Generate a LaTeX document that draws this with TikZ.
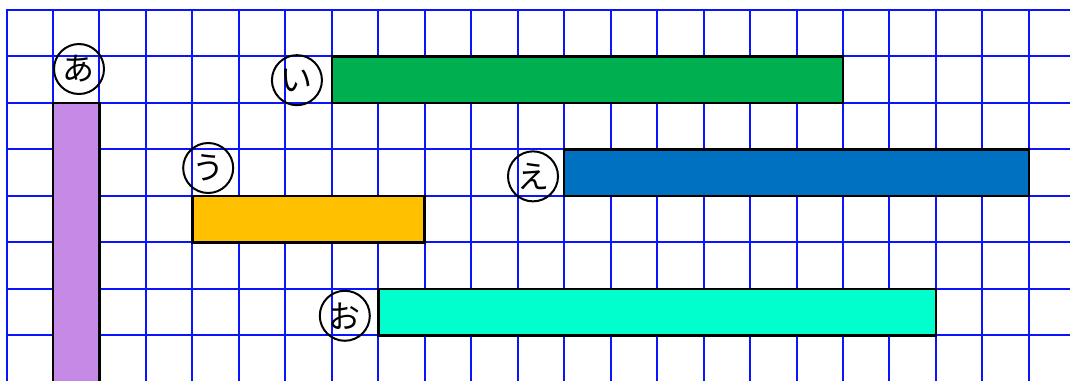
\documentclass[tikz,border=0pt]{standalone}
\usepackage{fontspec}
\newfontfamily\jp{Noto Sans CJK JP}
\definecolor{gridblue}{HTML}{0A14FF}
\definecolor{cpurple}{HTML}{C58AE6}
\definecolor{cgreen}{HTML}{00B050}
\definecolor{corange}{HTML}{FFC000}
\definecolor{cblue}{HTML}{0070C0}
\definecolor{caqua}{HTML}{00FFCC}
\tikzset{
  gridline/.style={draw=gridblue, line width=2pt},
  bar/.style={draw=black, line width=2.5pt, anchor=north west, inner sep=0pt, outer sep=0pt, minimum height=46.47pt},
  lab/.style={circle, draw=black, line width=2pt, minimum size=50pt, inner sep=0pt, font=\jp\fontsize{32}{32}\selectfont}
}
\begin{document}
\begin{tikzpicture}[x=1pt,y=-1pt]
\useasboundingbox (0,0) rectangle (1070,380);
\fill[white] (0,0) rectangle (1070,380);
\clip (0,0) rectangle (1070,380);
\begin{scope}[shift={(6.5,10)}, x=46.47pt, y=-46.47pt]
  \foreach \i in {0,...,22} \draw[gridline] (\i,0) -- (\i,8.5);
  \foreach \j in {0,...,8} \draw[gridline] (-0.02,\j) -- (23.5,\j);
  % bars
  \node[bar, fill=cpurple, minimum width=46.47pt, minimum height=300pt] (ba) at (1,2) {};
  \node[bar, fill=cgreen, minimum width=511.17pt] (bi) at (7,1) {};
  \node[bar, fill=corange, minimum width=232.35pt] (bu) at (4,4) {};
  \node[bar, fill=cblue, minimum width=464.7pt] (be) at (12,3) {};
  \node[bar, fill=caqua, minimum width=557.64pt] (bo) at (8,6) {};
  % labels
  \node[lab] (la) at (1.56,1.27) {あ};
  \node[lab] (li) at (6.25,1.51) {い};
  \node[lab] (lu) at (4.34,3.40) {う};
  \node[lab] (le) at (11.33,3.58) {え};
  \node[lab] (lo) at (7.28,6.58) {お};
\end{scope}
\end{tikzpicture}
\end{document}
